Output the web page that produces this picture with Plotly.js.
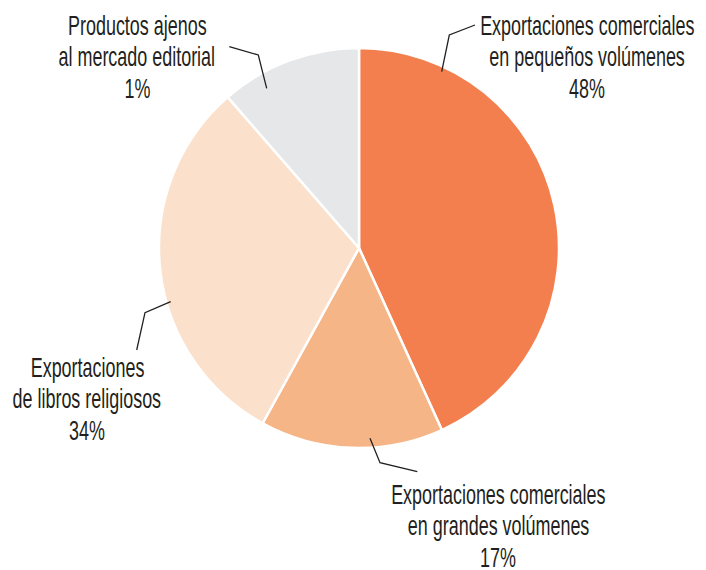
<!DOCTYPE html>
<html>
<head>
<meta charset="utf-8">
<script src="https://cdn.plot.ly/plotly-3.0.1.min.js"></script>
<style>html,body{margin:0;padding:0;background:#fff;}#chart{width:706px;height:570px;}</style>
</head>
<body>
<div id="chart"></div>
<script>
// ---- data ----
const categories = [
  "Exportaciones comerciales en pequeños volúmenes",
  "Exportaciones comerciales en grandes volúmenes",
  "Exportaciones de libros religiosos",
  "Productos ajenos al mercado editorial"
];
// slice sizes as drawn in the picture (share of the circle, %)
const sliceValues = [43.2, 14.8, 30.6, 11.4];
// percentages printed on the labels
const printedPct = ["48%", "17%", "34%", "1%"];
const labelLines = [
  ["Exportaciones comerciales", "en pequeños volúmenes"],
  ["Exportaciones comerciales", "en grandes volúmenes"],
  ["Exportaciones", "de libros religiosos"],
  ["Productos ajenos", "al mercado editorial"]
];
const colors = ["#F47F4E", "#F6B586", "#FBE0CB", "#E6E7E9"];

// ---- layout helpers (pixel -> paper) ----
const W = 706, H = 570;
const px = (x) => x / W;
const py = (y) => 1 - y / H;
const center = {x: 359, y: 248}, radius = 200;

// label placement: text centre x and first baseline y (px), leader polyline (px)
const labelPos = [
  {cx: 587, by: 35},
  {cx: 498, by: 504},
  {cx: 87, by: 377},
  {cx: 137, by: 35}
];
const leaders = [
  [[441.7, 71.7], [449.3, 35], [475, 25]],
  [[370, 438.3], [380, 462.7], [417.3, 471.7]],
  [[170.7, 301.7], [145, 312.7], [136.7, 350]],
  [[266.7, 88.3], [258.3, 55], [229.3, 46.7]]
];
const lineGap = 31.7;
const fontFam = "'Liberation Sans', Arial, Helvetica, sans-serif";
const fontSize = 27;
const condense = 0.665;
const textColor = "#231F20";

const annotations = [];
labelLines.forEach((lines, i) => {
  const all = lines.concat([printedPct[i]]);
  all.forEach((t, k) => {
    annotations.push({
      xref: "paper", yref: "paper",
      x: px(labelPos[i].cx), y: py(labelPos[i].by + k * lineGap - 0.35 * fontSize),
      xanchor: "center", yanchor: "middle",
      text: t, showarrow: false,
      font: {family: fontFam, size: fontSize, color: textColor}
    });
  });
});

const shapes = leaders.map(pts => ({
  type: "path", xref: "paper", yref: "paper",
  path: pts.map((p, k) => (k ? "L" : "M") + px(p[0]) + "," + py(p[1])).join(" "),
  line: {color: "#231F20", width: 1.3}
}));

const trace = {
  type: "pie",
  labels: categories,
  values: sliceValues,
  sort: false,
  direction: "clockwise",
  rotation: 0,
  textinfo: "none",
  hoverinfo: "none",
  showlegend: false,
  marker: {colors: colors, line: {color: "#FFFFFF", width: 2.5}},
  domain: {
    x: [px(center.x - radius), px(center.x + radius)],
    y: [py(center.y + radius), py(center.y - radius)]
  }
};

const layout = {
  width: W, height: H,
  margin: {l: 0, r: 0, t: 0, b: 0},
  paper_bgcolor: "#FFFFFF",
  plot_bgcolor: "#FFFFFF",
  showlegend: false,
  annotations: annotations,
  shapes: shapes
};

Plotly.newPlot("chart", [trace], layout, {displayModeBar: false, staticPlot: true}).then(() => {
  // emulate the condensed typeface of the original by narrowing the label text
  document.querySelectorAll("#chart .annotation-text").forEach(t => {
    t.style.transformBox = "fill-box";
    t.style.transformOrigin = "center";
    t.style.transform = "scaleX(" + condense + ")";
  });
});
</script>
</body>
</html>
